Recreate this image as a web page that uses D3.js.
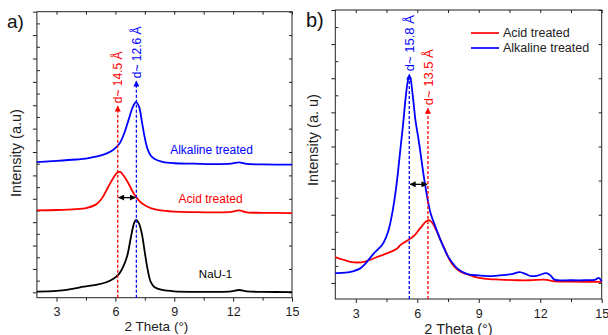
<!DOCTYPE html>
<html>
<head>
<meta charset="utf-8">
<script src="https://cdn.jsdelivr.net/npm/d3@7"></script>
<style>
  body { margin: 0; background: #fff; }
  svg { display: block; font-family: "Liberation Sans", Arial, sans-serif; }
  .frame { fill: none; stroke: #222; stroke-width: 1; }
  .tick line { stroke: #222; }
  .domain { display: none; }
</style>
</head>
<body>
<script>
// ---- data (2 theta in degrees, intensity in arbitrary units) ----
const xTicks = [3, 6, 9, 12, 15];
const xMinor = [4.5, 7.5, 10.5, 13.5];

// panel a: stacked patterns
const nauA = [[2,0.03],[3,0.06],[3.8,0.15],[4.4,0.24],[5,0.32],[5.5,0.42],[5.9,0.58],[6.2,0.8],[6.4,1.1],[6.6,1.55],[6.8,2.4],[6.95,2.95],[7.05,3.1],[7.2,2.95],[7.35,2.5],[7.5,1.7],[7.65,0.95],[7.8,0.45],[8.0,0.22],[8.4,0.1],[9,0.04],[10,0.02],[11,0.02],[11.9,0.04],[12.3,0.1],[12.7,0.04],[13.5,0.02],[15,0.01]];
const acidA = [[2,3.5],[3,3.52],[4,3.56],[4.5,3.6],[5,3.75],[5.3,4.0],[5.6,4.45],[5.9,4.9],[6.1,5.12],[6.25,5.15],[6.45,4.95],[6.7,4.6],[6.95,4.2],[7.2,3.92],[7.5,3.72],[7.8,3.6],[8.3,3.5],[9,3.45],[10,3.43],[11,3.42],[11.9,3.44],[12.3,3.5],[12.7,3.42],[13.5,3.4],[15,3.39]];
const alkA = [[2,5.57],[3,5.62],[4,5.68],[4.5,5.72],[5,5.8],[5.5,5.92],[5.9,6.1],[6.2,6.35],[6.45,6.8],[6.7,7.45],[6.9,7.95],[7.05,8.13],[7.2,7.95],[7.35,7.3],[7.5,6.6],[7.65,6.1],[7.8,5.85],[8.0,5.7],[8.4,5.58],[9,5.52],[10,5.5],[11,5.48],[11.9,5.5],[12.3,5.56],[12.7,5.49],[13.5,5.47],[15,5.46]];

// panel b: overlaid patterns
const acidB = [[2,0.76],[2.4,0.68],[2.74,0.62],[3.1,0.6],[3.4,0.62],[3.7,0.68],[4.04,0.76],[4.4,0.84],[4.7,0.91],[5.0,1.0],[5.17,1.11],[5.4,1.2],[5.66,1.3],[5.9,1.42],[6.07,1.55],[6.25,1.68],[6.4,1.79],[6.57,1.84],[6.75,1.75],[6.89,1.59],[7.0,1.45],[7.14,1.25],[7.35,0.98],[7.55,0.71],[7.75,0.52],[7.96,0.39],[8.2,0.3],[8.45,0.25],[8.8,0.18],[9.26,0.13],[10,0.1],[10.9,0.08],[11.5,0.08],[12.2,0.1],[12.4,0.08],[12.7,0.05],[13.5,0.04],[15,0.03]];
const alkB = [[2,0.29],[2.5,0.3],[2.9,0.35],[3.2,0.42],[3.4,0.52],[3.65,0.7],[3.87,0.86],[4.1,1.0],[4.28,1.11],[4.45,1.3],[4.6,1.55],[4.75,1.95],[4.93,2.62],[5.05,3.2],[5.17,3.89],[5.3,4.6],[5.42,5.36],[5.52,5.85],[5.6,6.04],[5.68,5.95],[5.75,5.65],[5.85,5.1],[5.91,4.77],[6.05,4.25],[6.16,3.8],[6.3,3.2],[6.4,2.82],[6.52,2.4],[6.65,2.04],[6.89,1.64],[7.14,1.25],[7.47,0.81],[7.7,0.6],[7.96,0.42],[8.45,0.26],[9,0.22],[9.43,0.2],[10,0.22],[10.6,0.26],[11.0,0.32],[11.3,0.26],[11.55,0.2],[11.9,0.22],[12.3,0.29],[12.5,0.22],[12.7,0.1],[13.5,0.08],[14.2,0.08],[14.7,0.1],[14.85,0.15],[15,0.05]];

// d-spacing markers: [theta, arrow tip intensity, label, colour]
const peaksA = [[6.12, 7.96, "d~ 14.5 Å", "red"], [7.07, 9.03, "d~ 12.6 Å", "blue"]];
const peaksB = [[5.61, 6.12, "d~ 15.8 Å", "blue"], [6.52, 5.12, "d~ 13.5 Å", "red"]];
// shift arrows: [from theta, to theta, intensity]
const shiftA = [6.12, 7.07, 4.05];
const shiftB = [5.61, 6.52, 2.89];

// curve labels in panel a: [theta, intensity, text, colour, size]
const labelsA = [[10.9, 5.9, "Alkaline treated", "blue", 12], [10.85, 3.8, "Acid treated", "red", 12], [11.1, 0.63, "NaU-1", "black", 11.5]];
const legendB = [["Acid treated", "red"], ["Alkaline treated", "blue"]];

const svg = d3.select("body").append("svg")
  .attr("width", 608)
  .attr("height", 335);

const defs = svg.append("defs");
["red", "blue", "black"].forEach(c => {
  defs.append("marker")
    .attr("id", "arr-" + c)
    .attr("viewBox", "0 0 10 10")
    .attr("refX", 9).attr("refY", 5)
    .attr("markerUnits", "userSpaceOnUse")
    .attr("markerWidth", 7).attr("markerHeight", 6)
    .attr("orient", "auto-start-reverse")
    .append("path")
    .attr("d", "M0,0L10,5L0,10z")
    .attr("fill", c);
});

function drawPanel(opt) {
  const x = d3.scaleLinear().domain([2, 15]).range(opt.xr);
  const y = d3.scaleLinear().domain(opt.yd).range(opt.yr);
  const g = svg.append("g");
  const [x0, x1] = opt.xr;
  const [y0, y1] = opt.yr;

  // ticks
  g.append("g").attr("transform", `translate(0,${y0})`)
    .call(d3.axisBottom(x).tickValues(xTicks).tickSize(4).tickSizeOuter(0).tickPadding(opt.tickPad))
    .call(s => s.selectAll("text").attr("font-size", opt.tickFont).attr("fill", "#222").attr("font-family", "Liberation Sans, Arial"));
  g.append("g").attr("transform", `translate(0,${y0})`)
    .call(d3.axisBottom(x).tickValues(xMinor).tickSize(3).tickFormat(""));
  g.append("g").attr("transform", `translate(0,${y1})`)
    .call(d3.axisBottom(x).tickValues(xTicks.concat(xMinor)).tickSize(3).tickFormat(""));

  const yMaj = d3.range(0, opt.yd[1] + 0.01, 1);
  const yMin = d3.range(0.5, opt.yd[1], 1);
  g.append("g").attr("transform", `translate(${x0},0)`)
    .call(d3.axisLeft(y).tickValues(yMaj).tickSize(4).tickFormat(""));
  g.append("g").attr("transform", `translate(${x0},0)`)
    .call(d3.axisRight(y).tickValues(yMin).tickSize(3).tickFormat(""));
  g.append("g").attr("transform", `translate(${x1},0)`)
    .call(d3.axisLeft(y).tickValues(yMaj).tickSize(3).tickFormat(""));

  g.append("rect").attr("class", "frame")
    .attr("x", x0).attr("y", y1)
    .attr("width", x1 - x0).attr("height", y0 - y1);

  const line = d3.line().x(d => x(d[0])).y(d => y(d[1])).curve(d3.curveCatmullRom.alpha(0.5));
  opt.series.forEach(([data, color]) => {
    g.append("path").datum(data)
      .attr("fill", "none")
      .attr("stroke", color)
      .attr("stroke-width", 1.8)
      .attr("stroke-linejoin", "round")
      .attr("d", line);
  });

  // dashed d-spacing lines with arrows and rotated labels
  opt.peaks.forEach(([t, tip, label, color]) => {
    g.append("line")
      .attr("x1", x(t)).attr("x2", x(t))
      .attr("y1", y0).attr("y2", y(tip))
      .attr("stroke", color).attr("stroke-width", 1.3)
      .attr("stroke-dasharray", "3,2")
      .attr("marker-end", `url(#arr-${color})`);
    g.append("text")
      .attr("transform", `translate(${x(t)},${y(tip) - 3}) rotate(-90)`)
      .attr("dy", "0.36em")
      .attr("font-size", opt.dFont)
      .attr("fill", color)
      .text(label);
  });

  // double arrow between the two peaks
  const [sa, sb, sv] = opt.shift;
  g.append("line")
    .attr("x1", x(sa) + 1).attr("x2", x(sb) - 1)
    .attr("y1", y(sv)).attr("y2", y(sv))
    .attr("stroke", "black").attr("stroke-width", 1.3)
    .attr("marker-start", "url(#arr-black)")
    .attr("marker-end", "url(#arr-black)");

  // axis titles and panel letter
  g.append("text")
    .attr("x", (x0 + x1) / 2 + opt.xtDx).attr("y", opt.xtY)
    .attr("text-anchor", "middle").attr("font-size", opt.titleFont).attr("fill", "#222")
    .text("2 Theta (°)");
  g.append("text")
    .attr("transform", `translate(${opt.ytX},${opt.ytY}) rotate(-90)`)
    .attr("text-anchor", "middle").attr("font-size", 14.5).attr("fill", "#222")
    .text(opt.yTitle);
  g.append("text")
    .attr("x", opt.letter[0]).attr("y", opt.letter[1])
    .attr("font-size", opt.letter[3]).attr("fill", "#111")
    .text(opt.letter[2]);

  return { g, x, y };
}

const pa = drawPanel({
  xr: [36.9, 292], yr: [297.7, 11.7], yd: [-0.23, 12],
  series: [[nauA, "black"], [acidA, "red"], [alkA, "blue"]],
  peaks: peaksA, shift: shiftA, dFont: 12, tickFont: 12.5, tickPad: 5,
  titleFont: 13.5, xtY: 331, xtDx: -8,
  yTitle: "Intensity (a.u)", ytX: 21, ytY: 153,
  letter: [7, 28, "a)", 19]
});

labelsA.forEach(([t, v, txt, c, fs]) => {
  pa.g.append("text")
    .attr("x", pa.x(t)).attr("y", pa.y(v))
    .attr("text-anchor", "middle").attr("font-size", fs).attr("fill", c)
    .text(txt);
});

const pb = drawPanel({
  xr: [335.3, 601.7], yr: [299, 10], yd: [-0.47, 8],
  series: [[acidB, "red"], [alkB, "blue"]],
  peaks: peaksB, shift: shiftB, dFont: 13, tickFont: 12.5, tickPad: 6,
  titleFont: 14.5, xtY: 334, xtDx: -10,
  yTitle: "Intensity (a. u)", ytX: 318, ytY: 140,
  letter: [306, 27, "b)", 20]
});

// legend for panel b
const leg = pb.g.append("g").attr("transform", "translate(471,33)");
legendB.forEach(([txt, c], i) => {
  leg.append("line")
    .attr("x1", 0).attr("x2", 28)
    .attr("y1", i * 15).attr("y2", i * 15)
    .attr("stroke", c).attr("stroke-width", 1.7);
  leg.append("text")
    .attr("x", 32).attr("y", i * 15).attr("dy", "0.35em")
    .attr("font-size", 12.5).attr("fill", "#222")
    .text(txt);
});
</script>
</body>
</html>
